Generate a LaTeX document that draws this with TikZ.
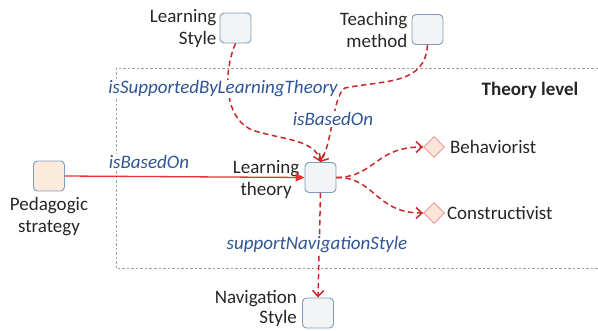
\documentclass[tikz,border=0pt]{standalone}
\usepackage{fontspec}
\setmainfont{Carlito}
\usetikzlibrary{shapes.geometric,arrows.meta}
\definecolor{boxfill}{RGB}{242,244,245}
\definecolor{boxdraw}{RGB}{127,155,190}
\definecolor{pedfill}{RGB}{252,234,218}
\definecolor{diafill}{RGB}{252,228,214}
\definecolor{diadraw}{RGB}{232,140,140}
\definecolor{relred}{RGB}{200,40,40}
\definecolor{linkred}{RGB}{232,50,50}
\definecolor{relblue}{RGB}{47,85,151}
\definecolor{textgray}{RGB}{38,38,38}
\definecolor{framegray}{RGB}{160,160,160}
\begin{document}
\begin{tikzpicture}[x=1pt, y=-1pt,
    font=\fontsize{19}{22}\selectfont, text=textgray,
    concept/.style={draw=boxdraw, fill=boxfill, rounded corners=4pt, line width=0.9pt,
      minimum width=31pt, minimum height=30pt, inner sep=0pt},
    instance/.style={diamond, draw=diadraw, fill=diafill, line width=0.8pt,
      minimum size=21pt, inner sep=0pt},
    relation/.style={draw=relred, line width=1.5pt, dash pattern=on 5.5pt off 3.5pt,
      -{Straight Barb[length=6pt,width=11pt]}},
    rellabel/.style={text=relblue, fill=white, inner sep=1pt,
      font=\fontsize{19}{22}\selectfont\itshape},
    caption/.style={inner sep=0pt}]
  \useasboundingbox (0,0) rectangle (598,330);

  % Theory level frame, open to the right
  \draw[framegray, line width=0.7pt, dash pattern=on 2.5pt off 2pt] (598,68) -| (116,268) -- (598,268);
  \node[font=\fontsize{19}{22}\selectfont\bfseries] (level) at (530,90) {Theory level};

  % Concepts and instances
  \node[concept] (lstyle) at (235.5,28) {};
  \node[concept] (tmethod) at (427.5,29.5) {};
  \node[concept] (ltheory) at (320.5,177.5) {};
  \node[concept, fill=pedfill] (pstrategy) at (49,176) {};
  \node[concept] (nstyle) at (318,313) {};
  \node[instance] (behav) at (434,147) {};
  \node[instance] (constr) at (434,213) {};

  % Their names
  \node[caption, anchor=east, align=right] (lstyle-txt) at ([xshift=-3pt]lstyle.west) {Learning\\Style};
  \node[caption, anchor=east, align=right] (tmethod-txt) at ([xshift=-4pt]tmethod.west) {Teaching\\method};
  \node[caption, anchor=east, align=center] (ltheory-txt) at ([xshift=-5pt,yshift=-2pt]ltheory.west) {Learning\\theory};
  \node[caption, anchor=north, align=center] (pstrategy-txt) at ([yshift=-6pt]pstrategy.south) {Pedagogic\\strategy};
  \node[caption, anchor=east, align=right, font=\fontsize{19}{20}\selectfont] (nstyle-txt)
    at ([xshift=-5pt,yshift=5pt]nstyle.west) {Navigation\\Style};
  \node[caption, anchor=west] (behav-txt) at ([xshift=5pt]behav.east) {Behaviorist};
  \node[caption, anchor=west] (constr-txt) at ([xshift=2pt]constr.east) {Constructivist};

  % Bends of the two upper relations
  \coordinate (lsbend) at (255,131);
  \coordinate (tmbend) at (345,88);

  % Relations
  \draw[relation] (lstyle.south) .. controls (222,75) and (225,122) .. (lsbend)
    .. controls (285,140) and (315,140) .. (ltheory.north);
  \draw[relation] (tmethod.south) .. controls (425,85) and (385,80) .. (tmbend)
    .. controls (333,95) and (333,140) .. (ltheory.north);
  \draw[relation] (ltheory.east) .. controls (375,177) and (375,147) .. (behav.west);
  \draw[relation] (ltheory.east) .. controls (375,177) and (375,213) .. (constr.west);
  \draw[relation] (ltheory.south) -- (nstyle.north);
  \draw[linkred, line width=1.3pt, -{Triangle[length=9pt,width=8pt]}] (pstrategy.east) -- (ltheory.west);

  % Relation names
  \node[rellabel] (supported) at (223,89) {isSupportedByLearningTheory};
  \node[rellabel] (based-top) at (333,119) {isBasedOn};
  \node[rellabel] (based-left) at (149,162) {isBasedOn};
  \node[rellabel] (navigation) at (317,245) {supportNavigationStyle};
\end{tikzpicture}
\end{document}
